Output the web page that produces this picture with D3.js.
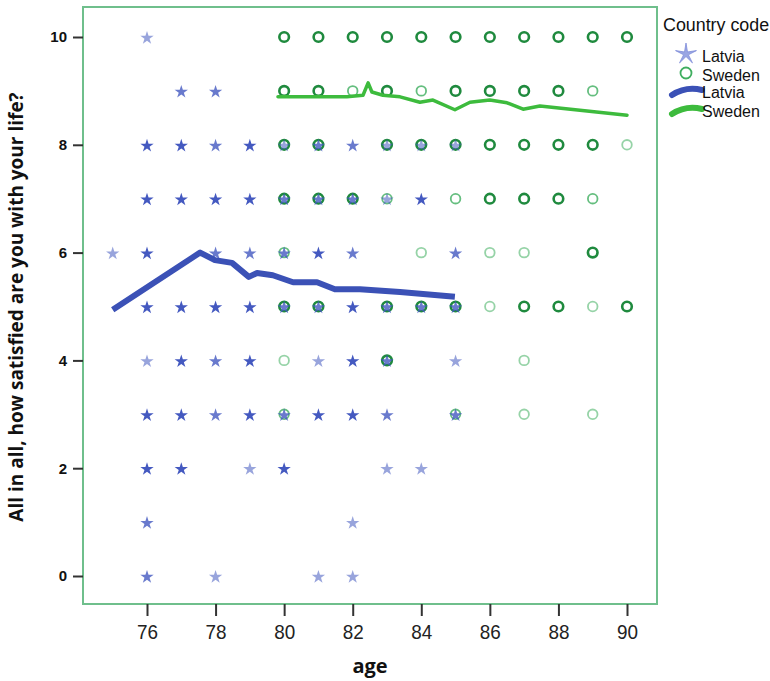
<!DOCTYPE html>
<html>
<head>
<meta charset="utf-8">
<script src="https://cdn.jsdelivr.net/npm/d3@7"></script>
<style>
  body { margin: 0; background: #fff; }
</style>
</head>
<body>
<div id="vis"></div>
<script>

// frame constants
const FRAME_WIDTH = 770;
const FRAME_HEIGHT = 681;
const PLOT = {left: 83, top: 7, right: 657, bottom: 604};

// data: [age, score, darkness 1..3]
const LATVIA_POINTS = [
  [76, 10, 1],
  [77, 9, 2], [78, 9, 2],
  [76, 8, 3], [77, 8, 3], [78, 8, 2], [79, 8, 3], [80, 8, 1], [81, 8, 2], [82, 8, 2], [83, 8, 1], [84, 8, 1], [85, 8, 1],
  [76, 7, 3], [77, 7, 3], [78, 7, 3], [79, 7, 3], [80, 7, 2], [81, 7, 2], [82, 7, 2], [83, 7, 1], [84, 7, 3],
  [75, 6, 1], [76, 6, 3], [78, 6, 2], [79, 6, 2], [80, 6, 2], [81, 6, 3], [82, 6, 2], [85, 6, 2],
  [76, 5, 3], [77, 5, 3], [78, 5, 3], [79, 5, 3], [80, 5, 2], [81, 5, 2], [82, 5, 3], [83, 5, 2], [84, 5, 2], [85, 5, 2],
  [76, 4, 1], [77, 4, 3], [78, 4, 2], [79, 4, 3], [81, 4, 1], [82, 4, 3], [83, 4, 2], [85, 4, 1],
  [76, 3, 3], [77, 3, 3], [78, 3, 2], [79, 3, 3], [80, 3, 2], [81, 3, 3], [82, 3, 3], [83, 3, 2], [85, 3, 2],
  [76, 2, 3], [77, 2, 3], [79, 2, 1], [80, 2, 3], [83, 2, 1], [84, 2, 1],
  [76, 1, 2], [82, 1, 1],
  [76, 0, 2], [78, 0, 1], [81, 0, 1], [82, 0, 1]
];

const SWEDEN_POINTS = [
  [80, 10, 3], [81, 10, 3], [82, 10, 3], [83, 10, 3], [84, 10, 3], [85, 10, 3], [86, 10, 3], [87, 10, 3], [88, 10, 3], [89, 10, 3], [90, 10, 3],
  [80, 9, 3], [81, 9, 3], [82, 9, 2], [83, 9, 3], [84, 9, 2], [85, 9, 3], [86, 9, 3], [87, 9, 3], [88, 9, 3], [89, 9, 2],
  [80, 8, 3], [81, 8, 3], [83, 8, 3], [84, 8, 3], [85, 8, 3], [86, 8, 3], [87, 8, 3], [88, 8, 3], [89, 8, 3], [90, 8, 1],
  [80, 7, 3], [81, 7, 3], [82, 7, 3], [83, 7, 2], [85, 7, 2], [86, 7, 3], [87, 7, 3], [88, 7, 3], [89, 7, 2],
  [80, 6, 2], [84, 6, 1], [86, 6, 1], [87, 6, 1], [89, 6, 3],
  [80, 5, 3], [81, 5, 3], [83, 5, 3], [84, 5, 3], [85, 5, 3], [86, 5, 1], [87, 5, 3], [88, 5, 3], [89, 5, 1], [90, 5, 3],
  [80, 4, 1], [83, 4, 3], [87, 4, 1],
  [80, 3, 2], [85, 3, 2], [87, 3, 1], [89, 3, 1]
];

// fit lines (age, score)
const LATVIA_FIT = [
  [75.0, 4.94], [77.55, 6.0], [77.98, 5.86], [78.48, 5.81], [78.97, 5.55], [79.21, 5.62],
  [79.67, 5.58], [80.26, 5.45], [80.96, 5.45], [81.48, 5.32], [82.21, 5.32], [83.38, 5.27], [84.98, 5.18]
];
const SWEDEN_FIT = [
  [79.82, 8.89], [80.96, 8.89], [81.83, 8.89], [82.3, 8.92], [82.45, 9.15], [82.56, 8.98],
  [82.88, 8.92], [83.38, 8.89], [83.96, 8.79], [84.34, 8.83], [84.98, 8.65], [85.42, 8.79],
  [86.0, 8.83], [86.5, 8.78], [86.97, 8.66], [87.46, 8.72], [90.0, 8.55]
];

const X_TICKS = [76, 78, 80, 82, 84, 86, 88, 90];
const Y_TICKS = [0, 2, 4, 6, 8, 10];

const BLUE = "#4459c0";
const SANS = "'Liberation Sans', Arial, sans-serif";
const OPEN = "'Open Sans', sans-serif";

const SVG = d3.select("#vis")
              .append("svg")
                .attr("width", FRAME_WIDTH)
                .attr("height", FRAME_HEIGHT)
                .attr("font-family", SANS);

// scales
const X_SCALE = d3.scaleLinear().domain([76, 90]).range([147, 627]);
const Y_SCALE = d3.scaleLinear().domain([0, 10]).range([576, 37]);

// plot frame
SVG.append("rect")
    .attr("x", PLOT.left)
    .attr("y", PLOT.top)
    .attr("width", PLOT.right - PLOT.left)
    .attr("height", PLOT.bottom - PLOT.top)
    .attr("fill", "none")
    .attr("stroke", "#6fbf8c")
    .attr("stroke-width", 2);

// y axis
const yAxis = SVG.append("g")
    .attr("transform", "translate(" + PLOT.left + ",0)")
    .call(d3.axisLeft(Y_SCALE).tickValues(Y_TICKS).tickSize(10).tickPadding(6));
yAxis.select(".domain").remove();
yAxis.selectAll("line").attr("stroke", "#333").attr("stroke-width", 2);
yAxis.selectAll("text")
    .attr("font-family", SANS)
    .attr("font-size", "15px")
    .attr("font-weight", "bold")
    .attr("fill", "#111");

// x axis
const xAxis = SVG.append("g")
    .attr("transform", "translate(0," + PLOT.bottom + ")")
    .call(d3.axisBottom(X_SCALE).tickValues(X_TICKS).tickSize(12).tickPadding(8));
xAxis.select(".domain").remove();
xAxis.selectAll("line").attr("stroke", "#333").attr("stroke-width", 2);
xAxis.selectAll("text")
    .attr("font-family", SANS)
    .attr("font-size", "21px")
    .attr("fill", "#222")
    .attr("transform", "scale(0.9,1)");

// axis titles
SVG.append("text")
    .attr("x", 370)
    .attr("y", 673)
    .attr("text-anchor", "middle")
    .attr("font-family", OPEN)
    .attr("font-size", "20px")
    .attr("font-weight", "bold")
    .attr("fill", "#111")
    .text("age");

SVG.append("text")
    .attr("transform", "translate(23,307) rotate(-90)")
    .attr("text-anchor", "middle")
    .attr("font-family", OPEN)
    .attr("font-size", "19px")
    .attr("font-weight", "bold")
    .attr("fill", "#111")
    .text("All in all, how satisfied are you with your life?");

// opacity from darkness level
const OPAC = [0, 0.55, 0.8, 1];

// sweden circles
SVG.selectAll(".swe")
    .data(SWEDEN_POINTS)
    .enter()
    .append("circle")
      .attr("class", "swe")
      .attr("cx", (d) => { return X_SCALE(d[0]); })
      .attr("cy", (d) => { return Y_SCALE(d[1]); })
      .attr("r", 4.8)
      .attr("fill", "none")
      .attr("stroke", (d) => { return d[2] == 3 ? "#1f8a3e" : "#3fae5f"; })
      .attr("stroke-width", (d) => { return d[2] == 3 ? 2.6 : 1.8; })
      .attr("opacity", (d) => { return OPAC[d[2]]; });

// latvia stars
const STAR = d3.symbol().type(d3.symbolStar).size(55);
SVG.selectAll(".lat")
    .data(LATVIA_POINTS)
    .enter()
    .append("path")
      .attr("class", "lat")
      .attr("d", STAR)
      .attr("transform", (d) => { return "translate(" + X_SCALE(d[0]) + "," + (Y_SCALE(d[1]) + 1) + ")"; })
      .attr("fill", BLUE)
      .attr("opacity", (d) => { return OPAC[d[2]]; });

// fit lines
const LINE = d3.line()
    .x((d) => { return X_SCALE(d[0]); })
    .y((d) => { return Y_SCALE(d[1]); })
    .curve(d3.curveLinear);

SVG.append("path")
    .datum(SWEDEN_FIT)
    .attr("d", LINE)
    .attr("fill", "none")
    .attr("stroke", "#3dbb3d")
    .attr("stroke-width", 3.5)
    .attr("stroke-linejoin", "round")
    .attr("stroke-linecap", "round");

SVG.append("path")
    .datum(LATVIA_FIT)
    .attr("d", LINE)
    .attr("fill", "none")
    .attr("stroke", "#3b51b6")
    .attr("stroke-width", 6)
    .attr("stroke-linejoin", "round");

// legend
const LEG = SVG.append("g");
LEG.append("text")
    .attr("x", 663).attr("y", 31)
    .attr("font-size", "19px")
    .attr("fill", "#111")
    .attr("transform", "translate(663,0) scale(0.94,1) translate(-663,0)")
    .text("Country code");

// thin legend star
const THIN_STAR = d3.lineRadial()
    .angle((d, i) => { return i * Math.PI / 5; })
    .radius((d, i) => { return i % 2 == 0 ? 11 : 2.5; })
    .curve(d3.curveLinearClosed);
LEG.append("path")
    .attr("d", THIN_STAR(d3.range(10)))
    .attr("transform", "translate(686,54)")
    .attr("fill", "#9aa6e3")
    .attr("stroke", "#7d8cd9")
    .attr("stroke-width", 0.8);
LEG.append("circle")
    .attr("cx", 686).attr("cy", 73).attr("r", 5.5)
    .attr("fill", "none")
    .attr("stroke", "#3fae5f")
    .attr("stroke-width", 1.8);
LEG.append("path")
    .attr("d", "M672,95 Q686,86 702,90")
    .attr("fill", "none")
    .attr("stroke", "#3b51b6")
    .attr("stroke-width", 6)
    .attr("stroke-linecap", "round");
LEG.append("path")
    .attr("d", "M672,114 Q686,105 702,109")
    .attr("fill", "none")
    .attr("stroke", "#3dbb3d")
    .attr("stroke-width", 6)
    .attr("stroke-linecap", "round");

const LEG_LABELS = [["Latvia", 62], ["Sweden", 81], ["Latvia", 98], ["Sweden", 117]];
LEG.selectAll(".lt")
    .data(LEG_LABELS)
    .enter()
    .append("text")
      .attr("x", 702)
      .attr("y", (d) => { return d[1]; })
      .attr("font-size", "16px")
      .attr("fill", "#111")
      .text((d) => { return d[0]; });

</script>
</body>
</html>
